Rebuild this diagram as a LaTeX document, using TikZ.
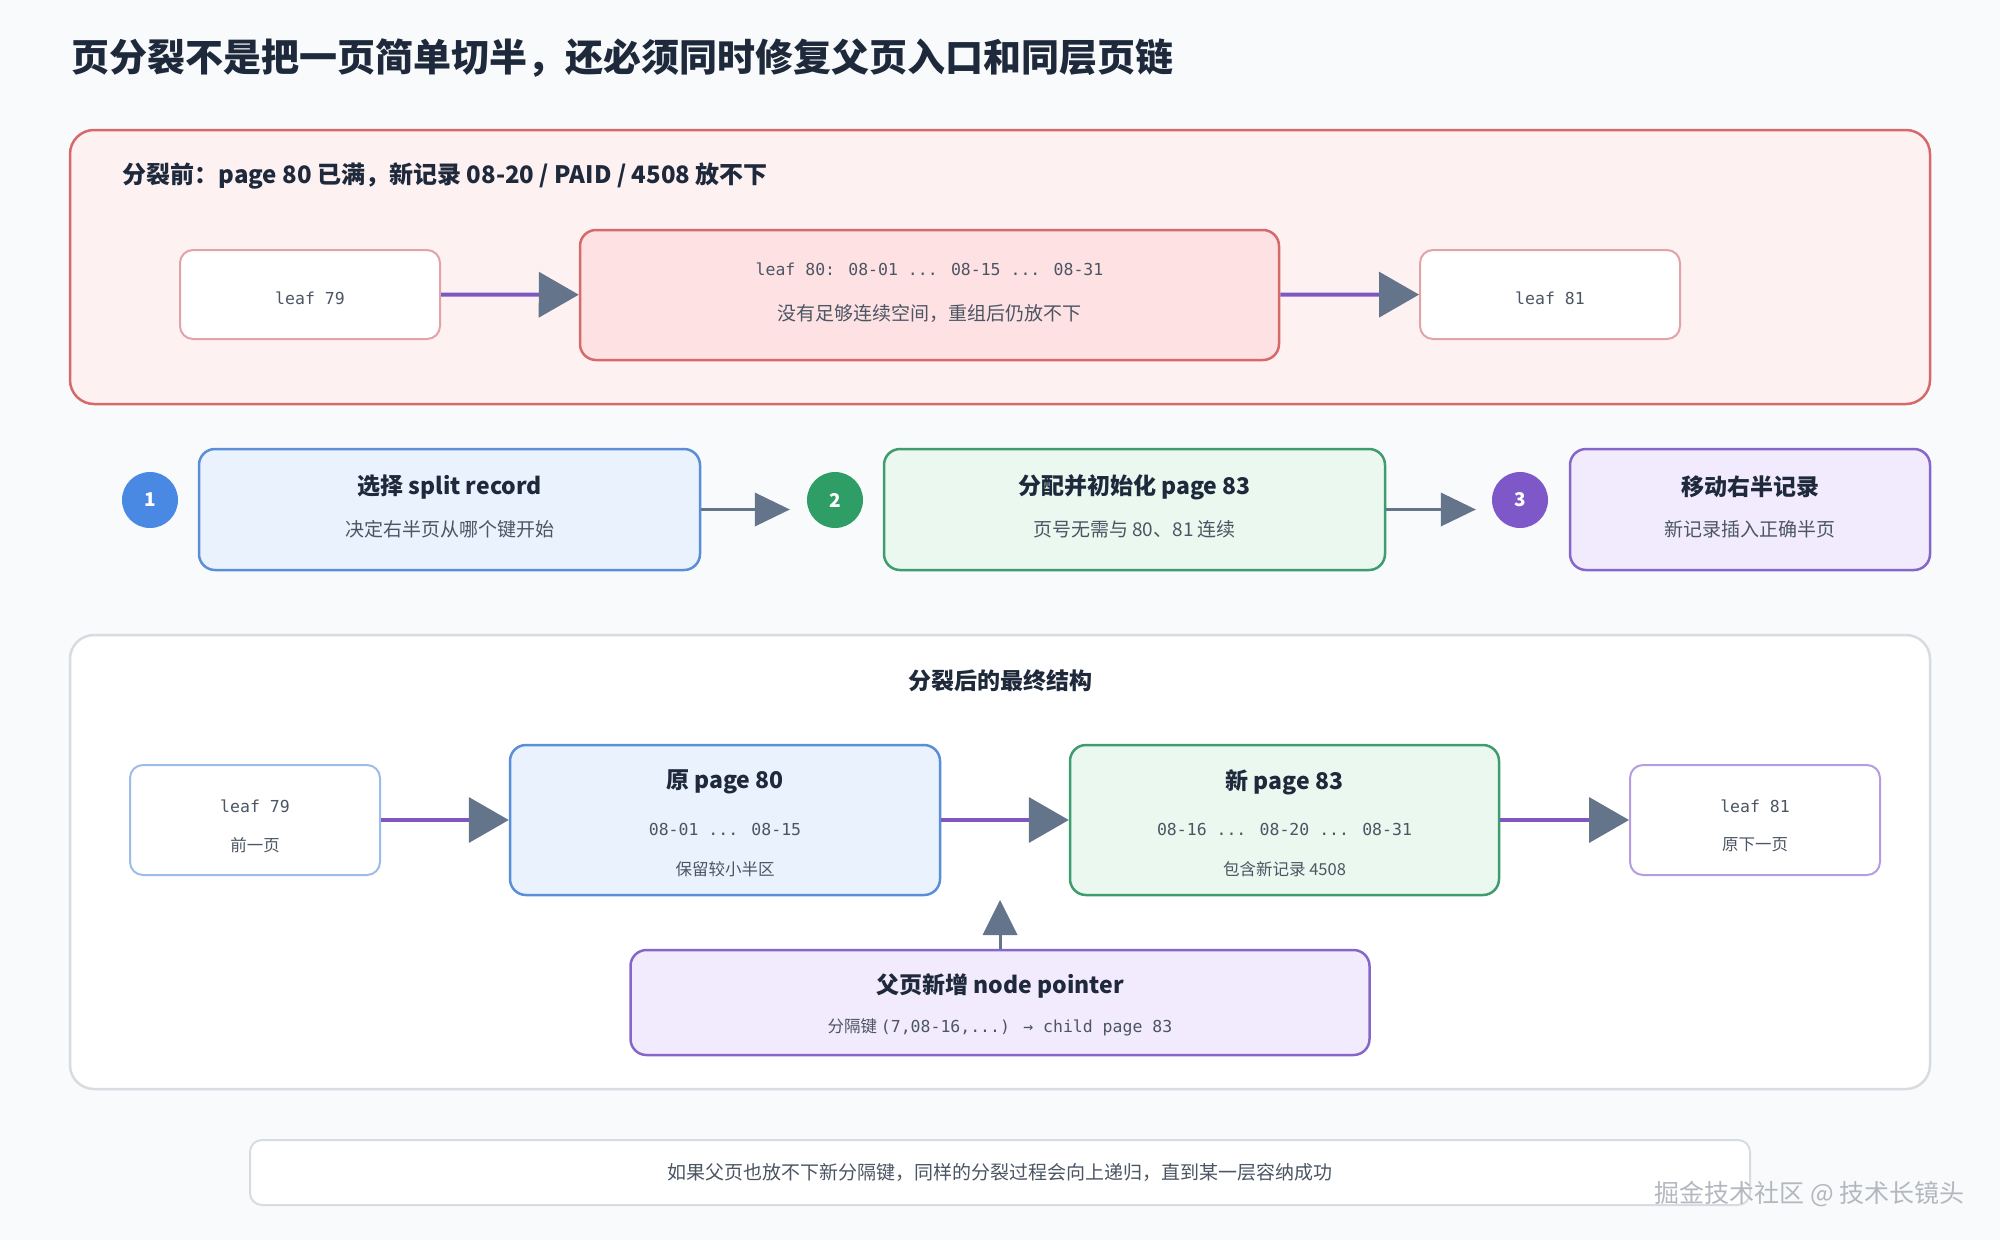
\documentclass[tikz,border=0pt]{standalone}
\usepackage{fontspec}
\setmainfont{Noto Sans CJK SC}
\newfontfamily\monofont{DejaVu Sans Mono}
\usetikzlibrary{arrows.meta}

\definecolor{pagebg}{HTML}{F8FAFC}
\definecolor{ink}{HTML}{1E293B}
\definecolor{subink}{HTML}{4B5563}
\definecolor{redline}{HTML}{D66A6A}
\definecolor{redbg}{HTML}{FEF1F1}
\definecolor{redbox}{HTML}{FEE2E3}
\definecolor{pinkline}{HTML}{E2A3A8}
\definecolor{linkpurple}{HTML}{7E57C2}
\definecolor{slate}{HTML}{64748B}
\definecolor{bluedot}{HTML}{4A89E3}
\definecolor{blueline}{HTML}{5A8FD8}
\definecolor{bluebg}{HTML}{EAF2FE}
\definecolor{lightblue}{HTML}{9DBDE9}
\definecolor{greendot}{HTML}{2F9E66}
\definecolor{greenline}{HTML}{3E9C6F}
\definecolor{greenbg}{HTML}{EAF8EF}
\definecolor{purpledot}{HTML}{7E57C8}
\definecolor{purpleline}{HTML}{8766C9}
\definecolor{purplebg}{HTML}{F2EBFD}
\definecolor{lightpurple}{HTML}{B49DE0}
\definecolor{greyline}{HTML}{D8DCE2}
\definecolor{wmgrey}{HTML}{B4B8BE}

\begin{document}
\begin{tikzpicture}[x=1pt,y=-1pt,
  panel/.style={line width=2.5pt, rounded corners=24pt},
  leafbox/.style={draw, line width=2pt, fill=white, rounded corners=13pt,
    inner sep=0pt, minimum width=260pt, minimum height=89pt},
  pagebox/.style={draw, line width=2.5pt, rounded corners=16pt, inner sep=0pt},
  numdot/.style={circle, inner sep=0pt, minimum size=56pt, text=white,
    font=\fontsize{19}{22}\selectfont\bfseries},
  head/.style={text=ink, font=\fontsize{23}{27}\selectfont\bfseries},
  sub/.style={text=subink, font=\fontsize{19}{22}\selectfont},
  small/.style={text=subink, font=\fontsize{16.5}{19}\selectfont},
  mono/.style={text=subink, font=\fontsize{16.5}{20}\selectfont\monofont},
  link/.style={line width=4pt, draw=linkpurple,
    -{Triangle[length=40pt, width=46pt, color=slate, line width=0pt]}},
  flow/.style={line width=3pt, draw=slate,
    -{Triangle[length=35pt, width=34pt, line width=0pt]}}]

  % page
  \fill[pagebg] (0,0) rectangle (2000,1240);
  \useasboundingbox (0,0) rectangle (2000,1240);

  \node[anchor=west, text=ink, font=\fontsize{38}{44}\selectfont\bfseries] (title) at (68,58)
    {页分裂不是把一页简单切半，还必须同时修复父页入口和同层页链};

  % before the split
  \draw[panel, draw=redline, fill=redbg] (70,130) rectangle (1930,404);
  \node[anchor=west, text=ink, font=\fontsize{24}{28}\selectfont\bfseries] (beforehead) at (119,176)
    {分裂前：page 80 已满，新记录 08-20 / PAID / 4508 放不下};

  \node[leafbox, draw=pinkline, mono] (oldleaf79) at (310,294.5) {};
  \node[mono] (oldname79) at (310,298) {leaf 79};
  \node[pagebox, draw=redline, fill=redbox, minimum width=699pt, minimum height=130pt] (fullleaf80) at (929.5,295) {};
  \node[mono] (fullkeys) at (929.5,269) {leaf 80: 08-01 ... 08-15 ... 08-31};
  \node[sub] (fullnote) at (929.5,313) {没有足够连续空间，重组后仍放不下};
  \node[leafbox, draw=pinkline, mono] (oldleaf81) at (1550,294.5) {};
  \node[mono] (oldname81) at (1550,298) {leaf 81};

  \draw[link] (oldleaf79) -- (fullleaf80);
  \draw[link] (fullleaf80) -- (oldleaf81);

  % three steps
  \node[numdot, fill=bluedot] (n1) at (150,500) {1};
  \node[pagebox, draw=blueline, fill=bluebg, minimum width=501pt, minimum height=121pt] (pick) at (449.5,509.5) {};
  \node[head] (pickhead) at (449.5,487) {选择 split record};
  \node[sub] (picknote) at (449.5,529) {决定右半页从哪个键开始};

  \node[numdot, fill=greendot] (n2) at (835,500) {2};
  \node[pagebox, draw=greenline, fill=greenbg, minimum width=501pt, minimum height=121pt] (alloc) at (1134.5,509.5) {};
  \node[head] (allochead) at (1134.5,487) {分配并初始化 page 83};
  \node[sub] (allocnote) at (1134.5,529) {页号无需与 80、81 连续};

  \node[numdot, fill=purpledot] (n3) at (1520,500) {3};
  \node[pagebox, draw=purpleline, fill=purplebg, minimum width=360pt, minimum height=121pt] (move) at (1750,509.5) {};
  \node[head] (movehead) at (1750,487) {移动右半记录};
  \node[sub] (movenote) at (1750,529) {新记录插入正确半页};

  \draw[flow, shorten >=17pt] (pick.east) -- (pick.east -| n2.west);
  \draw[flow, shorten >=16pt] (alloc.east) -- (alloc.east -| n3.west);

  % after the split
  \draw[panel, draw=greyline, fill=white] (70,635) rectangle (1930,1089);
  \node[text=ink, font=\fontsize{23}{27}\selectfont\bfseries] (afterhead) at (1000,681) {分裂后的最终结构};

  \node[leafbox, draw=lightblue, minimum width=250pt, minimum height=110pt] (newleaf79) at (255,820) {};
  \node[mono] (prevname) at (255,806) {leaf 79};
  \node[small] (prevnote) at (255,845) {前一页};

  \node[pagebox, draw=blueline, fill=bluebg, minimum width=430pt, minimum height=150pt] (keep80) at (725,820) {};
  \node[head] (keephead) at (725,782) {原 page 80};
  \node[mono] (keepkeys) at (725,829) {08-01 ... 08-15};
  \node[small] (keepnote) at (725,869) {保留较小半区};

  \node[pagebox, draw=greenline, fill=greenbg, minimum width=429pt, minimum height=150pt] (new83) at (1284.5,820) {};
  \node[head] (newhead) at (1284.5,782) {新 page 83};
  \node[mono] (newkeys) at (1284.5,829) {08-16 ... 08-20 ... 08-31};
  \node[small] (newnote) at (1284.5,869) {包含新记录 4508};

  \node[leafbox, draw=lightpurple, minimum width=250pt, minimum height=110pt] (newleaf81) at (1755,820) {};
  \node[mono] (nextname) at (1755,806) {leaf 81};
  \node[small] (nextnote) at (1755,845) {原下一页};

  \draw[link] (newleaf79) -- (keep80);
  \draw[link] (keep80) -- (new83);
  \draw[link] (new83) -- (newleaf81);

  \node[pagebox, draw=purpleline, fill=purplebg, minimum width=739pt, minimum height=105pt] (parentptr) at (1000,1002.5) {};
  \node[head] (parenthead) at (1000,986) {父页新增 node pointer};
  \node[small] (parentnote) at (1000,1027) {分隔键 {\monofont (7,08-16,...) → child page 83}};
  \coordinate (splitgap) at (1000,900);
  \draw[flow, -{Triangle[length=35pt, width=35pt, line width=0pt]}] (parentptr) -- (splitgap);

  % footnote
  \node[draw=greyline, line width=2pt, fill=white, rounded corners=12pt, inner sep=0pt,
    minimum width=1500pt, minimum height=65pt, sub] (recurse) at (1000,1172.5)
    {如果父页也放不下新分隔键，同样的分裂过程会向上递归，直到某一层容纳成功};

  \node[anchor=east, text=wmgrey, font=\fontsize{25}{29}\selectfont] (mark) at (1968,1194)
    {掘金技术社区 @ 技术长镜头};
\end{tikzpicture}
\end{document}
